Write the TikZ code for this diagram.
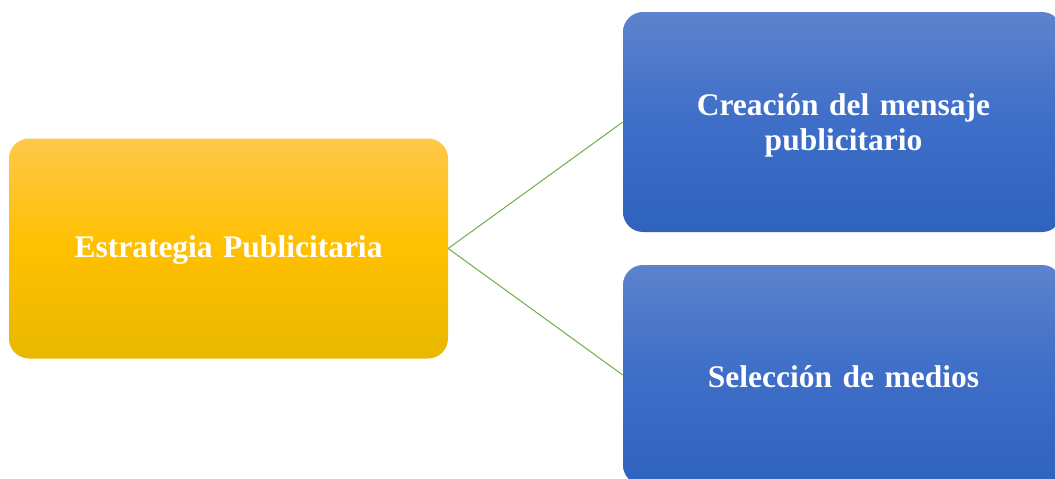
\documentclass[tikz,border=0pt]{standalone}
\usepackage{fontspec}
\setmainfont{Liberation Serif}
\definecolor{ytop}{RGB}{255,200,72}
\definecolor{ymid}{RGB}{255,192,0}
\definecolor{ybot}{RGB}{232,184,0}
\definecolor{btop}{RGB}{92,131,205}
\definecolor{bmid}{RGB}{62,110,200}
\definecolor{bbot}{RGB}{47,99,189}
\definecolor{lgreen}{RGB}{112,173,71}
\tikzset{
  gbox/.style={rounded corners=20pt, minimum width=439pt, minimum height=220pt,
    align=center, text=white, font=\bfseries\fontsize{31.5}{35}\selectfont,
    inner sep=0pt, text width=430pt},
  ybox/.style={gbox, top color=ytop, bottom color=ybot, middle color=ymid},
  bbox/.style={gbox, top color=btop, bottom color=bbot, middle color=bmid},
  conn/.style={draw=lgreen, line width=1pt}
}
\begin{document}
\begin{tikzpicture}[x=1pt,y=-1pt]
\useasboundingbox (0,0) rectangle (1055,479);
\clip (0,0) rectangle (1055,479);
\node[ybox] (L) at (228.5,248.5) {};
\node[bbox] (TR) at (842.5,122) {};
\node[bbox] (BR) at (842.5,375) {};
\node[gbox, draw=none, minimum height=0pt] (Lt) at (228.5,250) {Estrategia Publicitaria};
\node[gbox, draw=none, minimum height=0pt] (TRt) at (843.5,125) {Creación del mensaje\\publicitario};
\node[gbox, draw=none, minimum height=0pt] (BRt) at (843.5,377) {Selección de medios};
\draw[conn] (L.east) -- (TR.west);
\draw[conn] (L.east) -- (BR.west);
\end{tikzpicture}
\end{document}
